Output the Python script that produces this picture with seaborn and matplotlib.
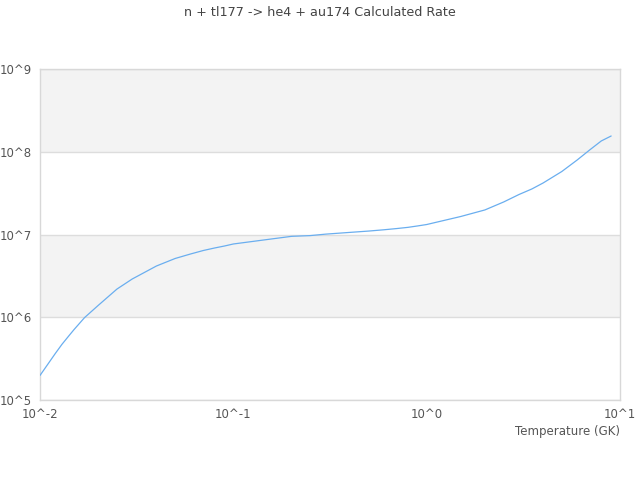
import matplotlib
matplotlib.use("Agg")
import matplotlib.pyplot as plt
import numpy as np
import pandas as pd
import seaborn as sns

# temperatures (GK) and calculated rates
temperature = [0.01, 0.012, 0.013, 0.014, 0.015, 0.017, 0.02, 0.025, 0.03, 0.04, 0.05,
               0.06, 0.07, 0.08, 0.09, 0.1, 0.15, 0.2, 0.25, 0.3, 0.4, 0.5, 0.6, 0.7,
               0.8, 0.9, 1.0, 1.5, 2.0, 2.5, 3.0, 3.5, 4.0, 5.0, 6.0, 7.0, 8.0, 9.0]
rate = [1.98e5, 3.65e5, 4.72e5, 5.84e5, 7.1e5, 9.9e5, 1.39e6, 2.19e6, 2.9e6, 4.16e6, 5.13e6,
        5.81e6, 6.41e6, 6.87e6, 7.26e6, 7.68e6, 8.7e6, 9.5e6, 9.7e6, 1.01e7, 1.06e7, 1.10e7,
        1.14e7, 1.18e7, 1.22e7, 1.27e7, 1.32e7, 1.65e7, 1.98e7, 2.47e7, 3.04e7, 3.55e7,
        4.19e7, 5.77e7, 7.94e7, 1.06e8, 1.35e8, 1.55e8]

x_ticks = [1e-2, 1e-1, 1e0, 1e1]
x_labels = ["10^-2", "10^-1", "10^0", "10^1"]
y_ticks = [1e5, 1e6, 1e7, 1e8, 1e9]
y_labels = ["10^5", "10^6", "10^7", "10^8", "10^9"]

title = "n + tl177 -> he4 + au174 Calculated Rate"

df = pd.DataFrame({"T": temperature, "rate": rate})

sns.set_style("white")
plt.rcParams["font.family"] = ["DejaVu Sans"]

fig = plt.figure(figsize=(6.4, 4.8), dpi=100)
ax = fig.add_axes([40 / 640, 1 - 400 / 480, 580 / 640, 331 / 480])

# alternating grey bands between decades
for i in range(len(y_ticks) - 1):
    if i % 2 == 1:
        ax.axhspan(y_ticks[i], y_ticks[i + 1], color="#f3f3f3", zorder=0, lw=0)
for yt in y_ticks:
    ax.axhline(yt, color="#dddddd", lw=1, zorder=1)

sns.lineplot(data=df, x="T", y="rate", ax=ax, color="#6aaeef", lw=0.9, zorder=3)

ax.set_xscale("log")
ax.set_yscale("log")
ax.set_xlim(1e-2, 1e1)
ax.set_ylim(1e5, 1e9)
ax.set_xticks(x_ticks)
ax.set_xticklabels(x_labels)
ax.set_yticks(y_ticks)
ax.set_yticklabels(y_labels)
ax.minorticks_off()
ax.tick_params(axis="both", length=0, labelsize=8.5, colors="#555555")
ax.tick_params(axis="x", pad=6)
ax.tick_params(axis="y", pad=6)

for s in ax.spines.values():
    s.set_color("#d8d8d8")
    s.set_linewidth(1)

ax.set_xlabel("Temperature (GK)", fontsize=8.5, color="#555555", ha="right")
ax.xaxis.set_label_coords(1.0, -0.075)
ax.set_ylabel("")

fig.text(0.5, 1 - 12 / 480, title, ha="center", va="center", fontsize=9.2, color="#444444")

fig.savefig("out.png", dpi=100)
